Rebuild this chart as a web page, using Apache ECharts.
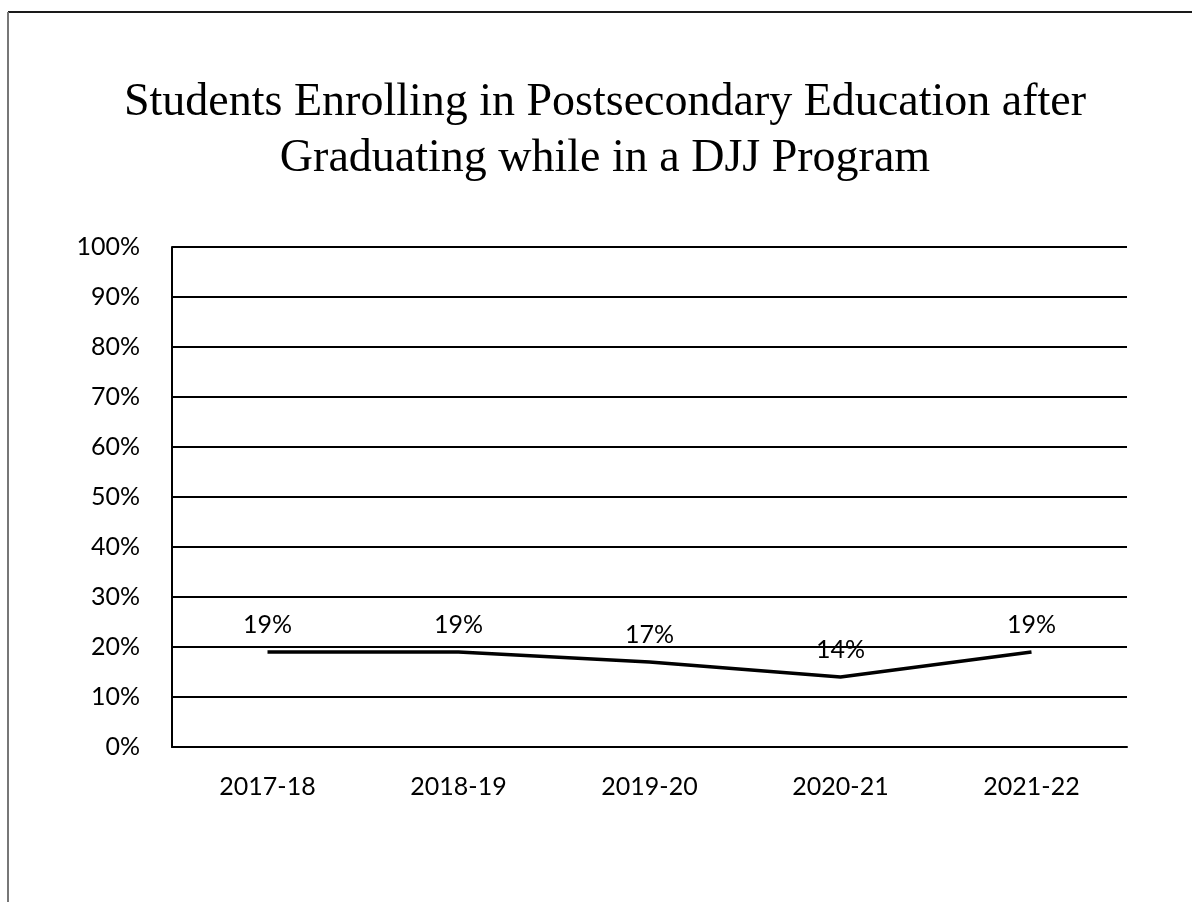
<!DOCTYPE html>
<html>
<head>
<meta charset="utf-8">
<script src="https://cdn.jsdelivr.net/npm/echarts@6/dist/echarts.min.js"></script>
<style>
html,body{margin:0;padding:0;background:#fff;}
#chart{width:1192px;height:902px;}
</style>
</head>
<body>
<div id="chart"></div>
<script>
const titleText = 'Students Enrolling in Postsecondary Education after\nGraduating while in a DJJ Program';
const categories = ['2017-18', '2018-19', '2019-20', '2020-21', '2021-22'];
const enrollmentPct = [19, 19, 17, 14, 19];
const yTicks = [0, 10, 20, 30, 40, 50, 60, 70, 80, 90, 100];

const chart = echarts.init(document.getElementById('chart'), null, {renderer: 'canvas'});
chart.setOption({
  backgroundColor: '#fff',
  animation: false,
  title: {
    text: titleText,
    left: 600,
    textAlign: 'center',
    top: 70,
    textStyle: {
      fontFamily: '"Liberation Serif", "Times New Roman", serif',
      fontSize: 46,
      fontWeight: 'normal',
      color: '#000',
      lineHeight: 56
    }
  },
  graphic: [
    {type: 'line', shape: {x1: 8, y1: 12, x2: 1192, y2: 12}, style: {stroke: '#1a1a1a', lineWidth: 2}},
    {type: 'line', shape: {x1: 8, y1: 12, x2: 8, y2: 902}, style: {stroke: '#777', lineWidth: 2}}
  ],
  grid: {left: 172, right: 65, top: 247, bottom: 155, containLabel: false},
  xAxis: {
    type: 'category',
    data: categories,
    boundaryGap: true,
    axisLine: {show: true, lineStyle: {color: '#000', width: 2}},
    axisTick: {show: false},
    axisLabel: {
      fontFamily: 'Lato, "Noto Sans", sans-serif',
      fontSize: 25,
      color: '#000',
      margin: 27
    }
  },
  yAxis: {
    type: 'value',
    min: yTicks[0],
    max: yTicks[yTicks.length - 1],
    interval: 10,
    axisLine: {show: true, lineStyle: {color: '#000', width: 2}},
    axisTick: {show: false},
    splitLine: {show: true, lineStyle: {color: '#000', width: 2}},
    axisLabel: {
      formatter: '{value}%',
      fontFamily: 'Lato, "Noto Sans", sans-serif',
      fontSize: 25,
      color: '#000',
      margin: 32
    }
  },
  series: [{
    type: 'line',
    data: enrollmentPct,
    showSymbol: true,
    symbol: 'circle',
    symbolSize: 1,
    itemStyle: {color: '#000', opacity: 0},
    lineStyle: {color: '#000', width: 3.5, opacity: 1},
    label: {
      show: true,
      position: 'top',
      distance: 14,
      formatter: '{c}%',
      fontFamily: 'Lato, "Noto Sans", sans-serif',
      fontSize: 25,
      color: '#000',
      opacity: 1
    }
  }]
});
</script>
</body>
</html>
